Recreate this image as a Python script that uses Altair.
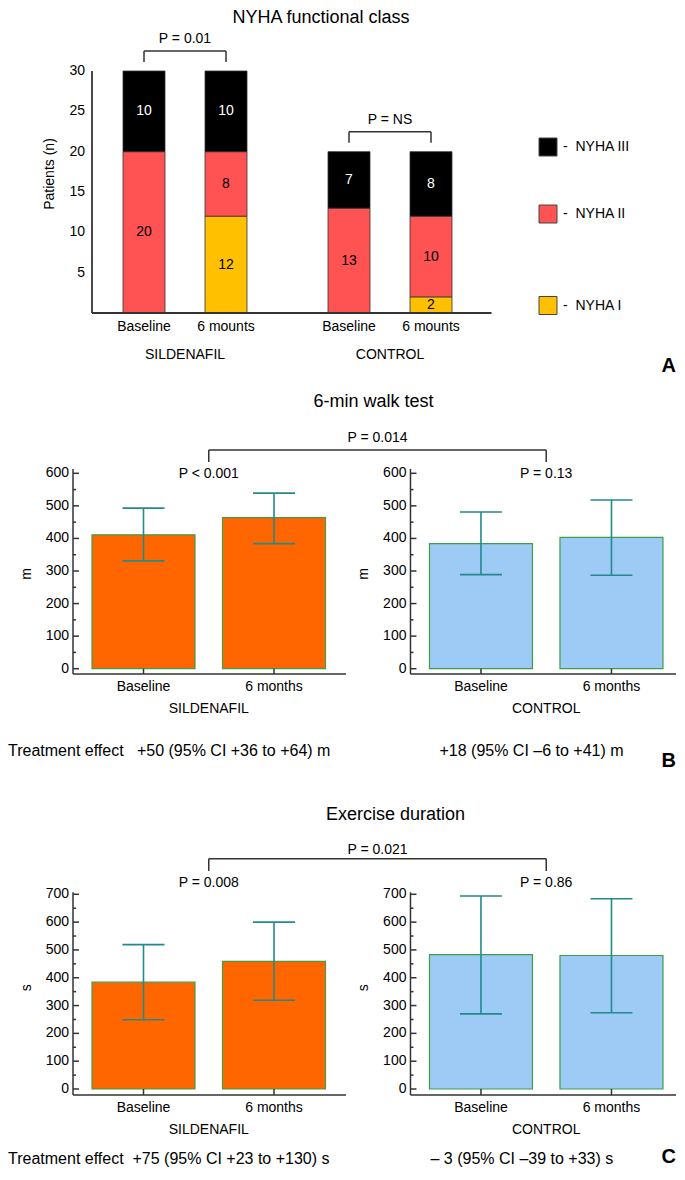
import altair as alt
import pandas as pd

# ---------------- values ----------------
nyha_groups = ["SILDENAFIL", "CONTROL"]
nyha_times = ["Baseline", "6 mounts"]
nyha_classes = ["NYHA I", "NYHA II", "NYHA III"]
# order of columns: SILDENAFIL baseline, SILDENAFIL 6 mounts, CONTROL baseline, CONTROL 6 mounts
nyha_I = [0, 12, 0, 2]
nyha_II = [20, 8, 13, 10]
nyha_III = [10, 10, 7, 8]
nyha_p = ["P = 0.01", "P = NS"]
nyha_ticks = [5, 10, 15, 20, 25, 30]
nyha_legend = ["NYHA III", "NYHA II", "NYHA I"]

groups = ["SILDENAFIL", "CONTROL"]
times = ["Baseline", "6 months"]

walk_mean = [411, 464, 384, 403]
walk_low = [331, 384, 289, 287]
walk_high = [493, 539, 481, 518]
walk_ticks = [0, 100, 200, 300, 400, 500, 600]
walk_p_within = ["P < 0.001", "P = 0.13"]
walk_p_between = "P = 0.014"
walk_effect = ["Treatment effect\u00a0\u00a0\u00a0+50 (95% CI +36 to +64) m",
               "+18 (95% CI \u20136 to +41) m"]

ex_mean = [384, 459, 483, 480]
ex_low = [249, 319, 270, 274]
ex_high = [519, 600, 694, 684]
ex_ticks = [0, 100, 200, 300, 400, 500, 600, 700]
ex_p_within = ["P = 0.008", "P = 0.86"]
ex_p_between = "P = 0.021"
ex_effect = ["Treatment effect\u00a0\u00a0+75 (95% CI +23 to +130) s",
             "\u2013 3 (95% CI \u201339 to +33) s"]

# ---------------- styling / layout ----------------
FONT = "Liberation Sans"
INK = "#000000"
AXIS = "#333333"
NYHA_COLORS = {"NYHA I": "#FFC000", "NYHA II": "#FF5252", "NYHA III": "#000000"}
GROUP_COLORS = {"SILDENAFIL": "#FF6600", "CONTROL": "#9DCBF5"}
BAR_EDGE = "#3E9E45"
ERR = "#23898B"
W = 604


def X(scale, f="x"):
    return alt.X(f"{f}:Q", scale=scale, axis=None)


def Y(scale, f="y"):
    return alt.Y(f"{f}:Q", scale=scale, axis=None)


def rules(rows, xs, ys, color=AXIS, width=1.5):
    df = pd.DataFrame(rows, columns=["x", "x2", "y", "y2"])
    return alt.Chart(df).mark_rule(color=color, strokeWidth=width).encode(
        x=X(xs), x2="x2", y=Y(ys), y2="y2")


def texts(rows, xs, ys, size=14, align="center", baseline="middle", color=INK, **kw):
    df = pd.DataFrame(rows, columns=["x", "y", "t"])
    return alt.Chart(df).mark_text(font=FONT, fontSize=size, align=align,
                                   baseline=baseline, color=color, **kw).encode(
        x=X(xs), y=Y(ys), text="t:N")


def rects(rows, xs, ys, color, stroke, width=1.0):
    df = pd.DataFrame(rows, columns=["x", "x2", "y", "y2"])
    return alt.Chart(df).mark_bar(color=color, stroke=stroke, strokeWidth=width).encode(
        x=X(xs), x2="x2", y=Y(ys), y2="y2")


# ================= Row A : NYHA functional class =================
A_H = 242
A_MAX = 30
A_K = A_H / A_MAX      # px per patient
A_U = 82.0             # px per bar slot
A_GAP = 2.5            # slots between the two groups
ax_s = alt.Scale(domain=[-71 / A_U, (W - 71) / A_U], nice=False, zero=False)
ay_s = alt.Scale(domain=[0, A_MAX], nice=False, zero=False)


def ah(px):
    return px / A_U


def av(px):
    return px / A_K


seg = {c: [] for c in nyha_classes}
lab_dark, lab_white = [], []
totals = []
for i in range(4):
    g, t = divmod(i, 2)
    pos = g * A_GAP + t
    base = 0
    for cls, vals in zip(nyha_classes, [nyha_I, nyha_II, nyha_III]):
        v = vals[i]
        if v > 0:
            seg[cls].append((pos - ah(21), pos + ah(21), base, base + v))
            (lab_white if cls == "NYHA III" else lab_dark).append((pos, base + v / 2, str(v)))
        base += v
    totals.append(base)

a_layers = []
for cls in nyha_classes:
    a_layers.append(rects(seg[cls], ax_s, ay_s, NYHA_COLORS[cls], "#333333", 0.8))
a_layers.append(texts(lab_dark, ax_s, ay_s, 14))
a_layers.append(texts(lab_white, ax_s, ay_s, 14, color="white"))

a_axis_x = -ah(52)
a_axis_end = 3.5 + ah(60.5)
a_layers.append(rules([(a_axis_x, a_axis_x, 0, A_MAX), (a_axis_x, a_axis_end, 0, 0)],
                      ax_s, ay_s, AXIS, 1.8))
a_layers.append(texts([(a_axis_x - ah(7), v, str(v)) for v in nyha_ticks], ax_s, ay_s, 14,
                      align="right"))
a_layers.append(texts([(-ah(94), av(139), "Patients (n)")], ax_s, ay_s, 14, angle=270))

xl = []
for i in range(4):
    g, t = divmod(i, 2)
    xl.append((g * A_GAP + t, -av(14), nyha_times[t]))
for g in range(2):
    xl.append((g * A_GAP + 0.5, -av(42), nyha_groups[g]))
a_layers.append(texts(xl, ax_s, ay_s, 14))

br, pt = [], []
for g in range(2):
    l, r = g * A_GAP, g * A_GAP + 1
    top = max(totals[2 * g], totals[2 * g + 1])
    yl, yt = top + av(20), top + av(9)
    br += [(l, r, yl, yl), (l, l, yt, yl), (r, r, yt, yl)]
    pt.append((l + 0.5, top + av(32), nyha_p[g]))
a_layers.append(rules(br, ax_s, ay_s, "#333333", 1.5))
a_layers.append(texts(pt, ax_s, ay_s, 14))

# legend
leg_y = {"NYHA III": av(166), "NYHA II": av(99), "NYHA I": av(7.5)}
for cls in nyha_legend:
    cy = leg_y[cls]
    a_layers.append(rects([(ah(395), ah(413), cy - av(9), cy + av(9))], ax_s, ay_s,
                          NYHA_COLORS[cls], "#444444", 1.0))
a_layers.append(texts([(ah(419), leg_y[c], "-\u00a0\u00a0" + c) for c in nyha_legend],
                      ax_s, ay_s, 14, align="left"))

a_layers.append(texts([(ah(177), av(304), "NYHA functional class")], ax_s, ay_s, 18,
                      baseline="top"))
a_layers.append(texts([(ah(532), -av(53), "A")], ax_s, ay_s, 20, align="right",
                      fontWeight="bold", color="#000000"))

row_a = alt.layer(*a_layers).properties(width=W, height=A_H)

# ================= Rows B and C =================
BC_U = 130.5           # px per bar slot
BC_GAP = 2.586         # slots between the two groups
bx_s = alt.Scale(domain=[-70.5 / BC_U, (W - 70.5) / BC_U], nice=False, zero=False)
X_MAX = (W - 70.5) / BC_U


def bh(px):
    return px / BC_U


def bc_row(mean, low, high, ticks, p_within, p_between, effect, title, unit, letter, geo):
    k = geo["k"]
    H = geo["H"]

    def v(px):
        return px / k

    lo = -v(geo["zero_off"])
    ys = alt.Scale(domain=[lo, lo + v(H)], nice=False, zero=False)
    layers = []
    bars = {g: [] for g in groups}
    errs, axes, xlab = [], [], []
    for i in range(4):
        g, t = divmod(i, 2)
        pos = g * BC_GAP + t
        bars[groups[g]].append((pos - bh(51.5), pos + bh(51.5), 0, mean[i]))
        errs += [(pos, pos, low[i], high[i]),
                 (pos - bh(21), pos + bh(21), low[i], low[i]),
                 (pos - bh(21), pos + bh(21), high[i], high[i])]
        axes.append((pos, pos, lo, 0))
        xlab.append((pos, -v(geo["xlab"]), times[t]))
    minor = [(a + b) / 2 for a, b in zip(ticks[:-1], ticks[1:])]
    tl, units, glab, pw, eff = [], [], [], [], []
    for g in range(2):
        a0 = g * BC_GAP - bh(70.5)
        a1 = min(g * BC_GAP + bh(202.5), X_MAX - bh(1))
        axes += [(a0, a0, lo, ticks[-1] + v(geo["top_ext"])), (a0, a1, lo, lo)]
        axes += [(a0, a0 + bh(6), tv, tv) for tv in ticks]
        axes += [(a0, a0 + bh(3), tv, tv) for tv in minor]
        tl += [(a0 - bh(4), tv, str(tv)) for tv in ticks]
        units.append((a0 - bh(46), v(geo["unit_y"]), unit))
        glab.append((g * BC_GAP + 0.5, -v(geo["grp"]), groups[g]))
        pw.append((g * BC_GAP + 0.5, v(geo["pw"]), p_within[g]))
        eff.append((a0 + bh(geo["eff_dx"][g]), -v(geo["eff"]), effect[g]))
    for g in groups:
        layers.append(rects(bars[g], bx_s, ys, GROUP_COLORS[g], BAR_EDGE, 1.2))
    layers.append(rules(errs, bx_s, ys, ERR, 1.6))
    layers.append(rules(axes, bx_s, ys, AXIS, 1.5))
    layers.append(texts(tl, bx_s, ys, 14, align="right"))
    layers.append(texts(units, bx_s, ys, 14, angle=270))
    layers.append(texts(xlab + glab + pw, bx_s, ys, 14))
    layers.append(texts(eff, bx_s, ys, 16, align="left"))
    l, r = 0.5, BC_GAP + 0.5
    yl, yt = v(geo["br"]), v(geo["brt"])
    layers.append(rules([(l, r, yl, yl), (l, l, yt, yl), (r, r, yt, yl)], bx_s, ys,
                        "#333333", 1.5))
    layers.append(texts([((l + r) / 2, v(geo["pb"]), p_between)], bx_s, ys, 14))
    layers.append(texts([((l + r) / 2 + bh(geo["title_dx"]), v(geo["title"]), title)],
                        bx_s, ys, 18))
    layers.append(texts([(X_MAX - bh(1), -v(geo["letter"]), letter)], bx_s, ys, 20,
                        align="right", fontWeight="bold", color="#000000"))
    return alt.layer(*layers).properties(width=W, height=H)


geo_b = dict(k=195.4 / 600, H=361, zero_off=5.3, top_ext=4.3, title=266.7, title_dx=-4,
             br=218.7, brt=206.7, pb=230.7, pw=194.7, xlab=18.3, grp=40, eff=82.3,
             letter=92.3, unit_y=94.7, eff_dx=[-65, 29])
geo_c = dict(k=194.7 / 700, H=421, zero_off=6, top_ext=2, title=273.7, title_dx=18,
             br=230.3, brt=218, pb=239, pw=206, xlab=19.3, grp=41.3, eff=70,
             letter=68, unit_y=101.3, eff_dx=[-65, 20])

row_b = bc_row(walk_mean, walk_low, walk_high, walk_ticks, walk_p_within, walk_p_between,
               walk_effect, "6-min walk test", "m", "B", geo_b)
row_c = bc_row(ex_mean, ex_low, ex_high, ex_ticks, ex_p_within, ex_p_between,
               ex_effect, "Exercise duration", "s", "C", geo_c)

chart = alt.vconcat(row_a, row_b, row_c, spacing=0, bounds="flush", padding=0).configure_view(
    strokeWidth=0)

chart.save("out.html", embed_options={"renderer": "svg", "actions": False})
